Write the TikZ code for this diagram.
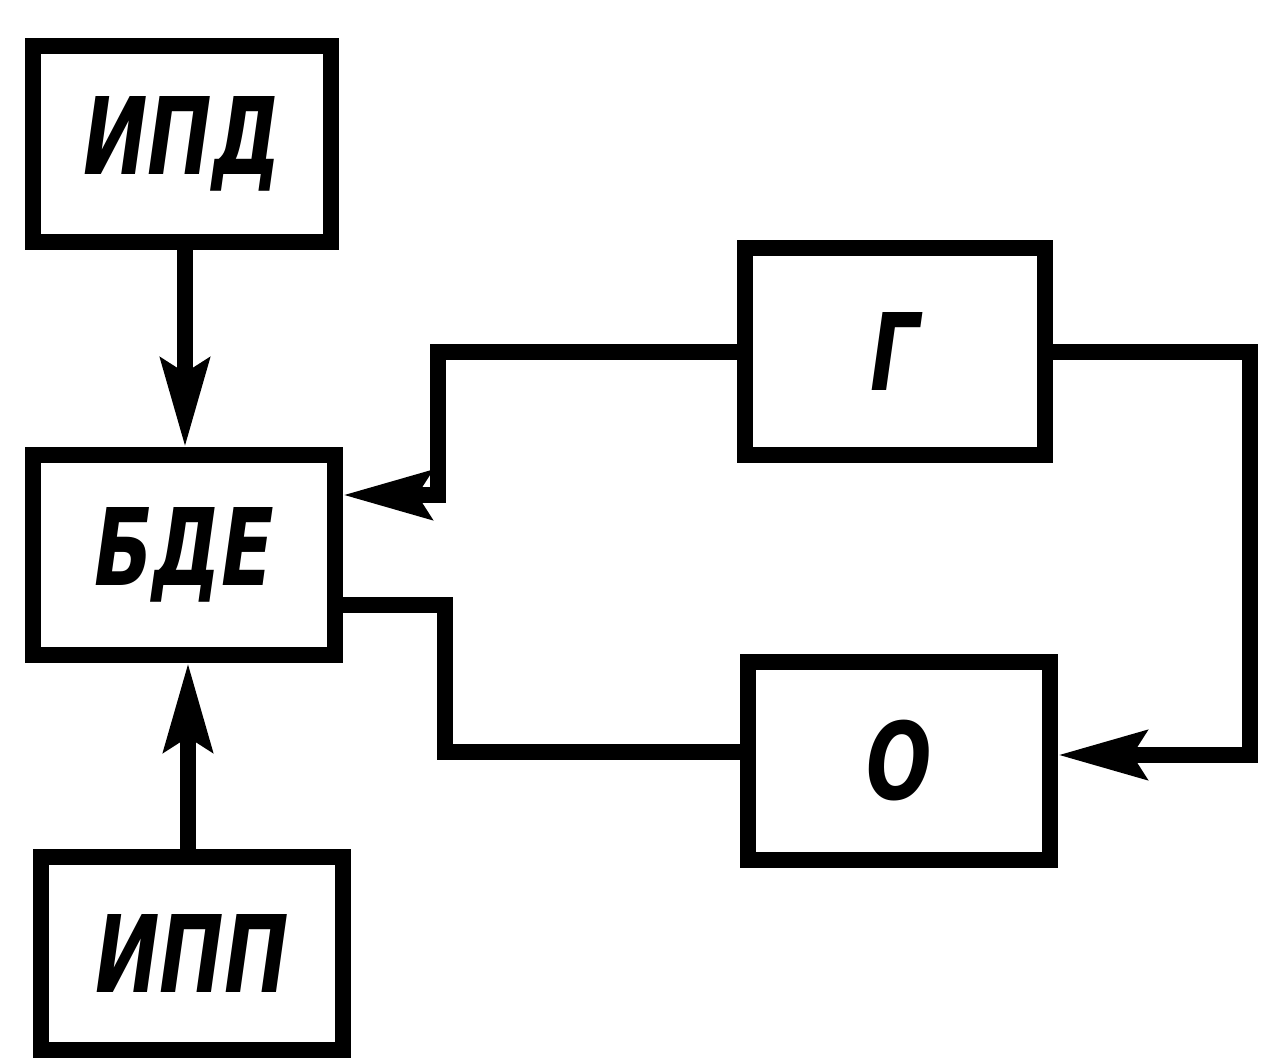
\documentclass[tikz,border=0pt]{standalone}
\usepackage{fontspec}
\newfontfamily\labfont{DejaVu Sans}[FakeStretch=0.72]
\usetikzlibrary{arrows.meta}
\begin{document}
\begin{tikzpicture}[x=1pt,y=-1pt,
  blk/.style={draw,line width=16pt,inner sep=0pt,
    font=\labfont\bfseries\itshape\fontsize{107}{107}\selectfont},
  conn/.style={line width=16pt},
  arr/.style={conn,-{Stealth[length=88pt,width=48pt,inset=14pt]}}]
\useasboundingbox (0,0) rectangle (1263,1057);
\node[blk,minimum width=298pt,minimum height=196pt] (ipd) at (182,144) {ИПД};
\node[blk,minimum width=302pt,minimum height=200pt] (bde) at (184,555) {БДЕ};
\node[blk,minimum width=302pt,minimum height=193pt] (ipp) at (192,953.5) {ИПП};
\node[blk,minimum width=300pt,minimum height=207pt] (g) at (895,351.5) {Г};
\node[blk,minimum width=302pt,minimum height=198pt] (o) at (899,761) {О};
\draw[arr] (ipd.south -| 185,0) -- (bde.north -| 185,0);
\draw[arr] (ipp.north -| 188,0) -- (bde.south -| 188,0);
\coordinate (c1) at (438,495);
\draw[arr] (g.west) -| (c1) -- (bde.east |- c1);
\coordinate (c2) at (1250,755);
\draw[arr] (g.east) -| (c2) -- (o.east |- c2);
\coordinate (c3) at (445,605);
\coordinate (c4) at (445,752);
\draw[conn] (bde.east |- c3) -- (c3) -- (c4) -- (o.west |- c4);
\end{tikzpicture}
\end{document}
